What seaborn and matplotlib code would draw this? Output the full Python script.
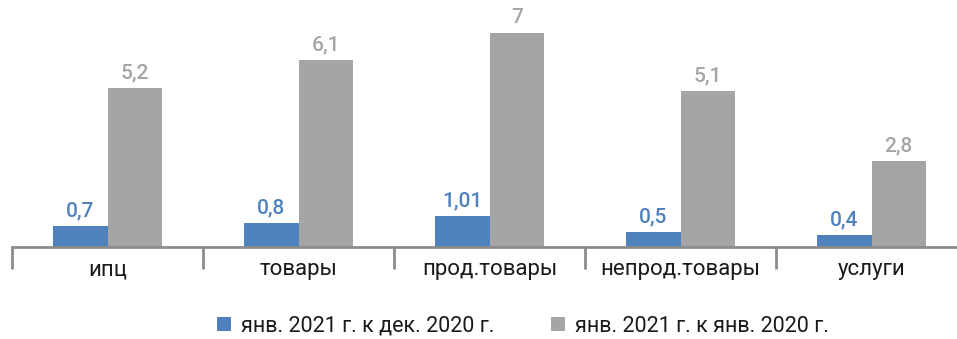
import pandas as pd
import numpy as np
import matplotlib.pyplot as plt
import seaborn as sns
from matplotlib.ticker import FixedLocator

categories = ['ипц', 'товары', 'прод.товары', 'непрод.товары', 'услуги']
series_names = ['янв. 2021 г. к дек. 2020 г.', 'янв. 2021 г. к янв. 2020 г.']
mom_values = [0.7, 0.8, 1.01, 0.5, 0.4]
yoy_values = [5.2, 6.1, 7, 5.1, 2.8]
mom_labels = ['0,7', '0,8', '1,01', '0,5', '0,4']
yoy_labels = ['5,2', '6,1', '7', '5,1', '2,8']

colors = ['#4F81BD', '#A5A5A5']

df = pd.DataFrame({
    'cat': categories * 2,
    'series': [series_names[0]] * 5 + [series_names[1]] * 5,
    'value': mom_values + yoy_values,
})

sns.set_style('white')
plt.rcParams['font.family'] = ['Roboto', 'DejaVu Sans']

fig = plt.figure(figsize=(9.57, 3.39), dpi=100)
ax = fig.add_axes([12 / 957, 1 - 247 / 339, 955 / 957, 247 / 339])

sns.barplot(data=df, x='cat', y='value', hue='series', palette=colors,
            width=0.57, saturation=1, linewidth=0, ax=ax, legend=True)

ax.set_xlim(-0.5, 4.5)
ax.set_ylim(0, 247 / 30.6)

# value labels above bars
for container, labels, col in zip(ax.containers, [mom_labels, yoy_labels], colors):
    ax.bar_label(container, labels=labels, padding=4, color=col,
                 fontsize=15, fontweight='medium')

for s in ['top', 'right', 'left']:
    ax.spines[s].set_visible(False)
ax.spines['bottom'].set_color('#8C8C8C')
ax.spines['bottom'].set_linewidth(2)

ax.set_yticks([])
ax.set_xlabel('')
ax.set_ylabel('')
ax.tick_params(axis='x', which='major', bottom=False, length=0, pad=9,
               labelsize=16, labelcolor='#1a1a1a')
ax.xaxis.set_minor_locator(FixedLocator(np.arange(-0.5, 4.6, 1)))
ax.tick_params(axis='x', which='minor', bottom=True, length=16, width=2,
               color='#8C8C8C', direction='out')

handles, labels = ax.get_legend_handles_labels()
ax.legend_.remove()
fig.legend(handles, labels, loc='center', bbox_to_anchor=(523 / 957, 1 - 326 / 339),
           ncol=2, frameon=False, fontsize=15.5, handlelength=0.65, handleheight=0.65,
           handletextpad=0.5, columnspacing=2.6, labelcolor='#1a1a1a',
           borderpad=0.2)

fig.savefig('out.png', dpi=100)
